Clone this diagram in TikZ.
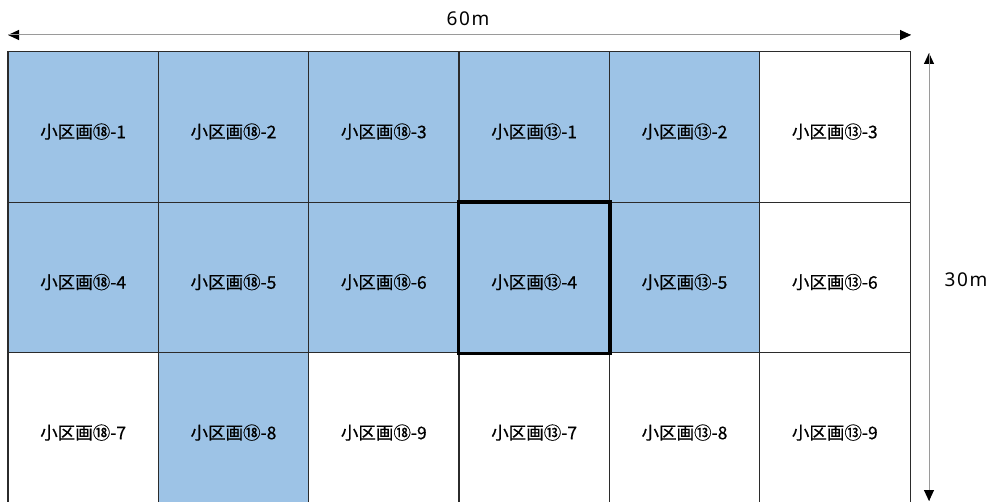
\documentclass[tikz,border=0pt]{standalone}
\usepackage{fontspec}
\setmainfont{Noto Sans CJK JP}[FakeBold=0.5]
\newfontfamily\dimfont[LetterSpace=8]{Noto Sans}
\usetikzlibrary{arrows.meta}
\definecolor{cellblue}{HTML}{9DC3E6}
\definecolor{gridline}{HTML}{2B2B2B}
\definecolor{dimline}{HTML}{9A9A9A}
\tikzset{
  cell/.style={draw=gridline, line width=1pt, rectangle, inner sep=0pt,
    minimum width=150.33pt, minimum height=150.5pt, text height=22pt, text depth=0pt,
    font=\fontsize{17.5}{19}\selectfont, text=black},
  bluecell/.style={cell, fill=cellblue},
  whitecell/.style={cell, fill=white},
  dimarrow/.style={draw=dimline, line width=1pt, -{Triangle[length=11pt,width=10pt,fill=black,color=black]}},
  dimlabel/.style={font=\dimfont\fontsize{19}{21}\selectfont, inner sep=0pt, text=black}
}
\begin{document}
\begin{tikzpicture}[x=1pt,y=-1pt]
\useasboundingbox (0,0) rectangle (991,502);
% row 1
\node[bluecell]  (c11) at (83.17,127.25) {小区画⑱-1};
\node[bluecell]  (c12) at (233.5,127.25) {小区画⑱-2};
\node[bluecell]  (c13) at (383.83,127.25) {小区画⑱-3};
\node[bluecell]  (c14) at (534.17,127.25) {小区画⑬-1};
\node[bluecell]  (c15) at (684.5,127.25) {小区画⑬-2};
\node[whitecell] (c16) at (834.83,127.25) {小区画⑬-3};
% row 2
\node[bluecell]  (c21) at (83.17,277.75) {小区画⑱-4};
\node[bluecell]  (c22) at (233.5,277.75) {小区画⑱-5};
\node[bluecell]  (c23) at (383.83,277.75) {小区画⑱-6};
\node[bluecell]  (c24) at (534.17,277.75) {小区画⑬-4};
\node[bluecell]  (c25) at (684.5,277.75) {小区画⑬-5};
\node[whitecell] (c26) at (834.83,277.75) {小区画⑬-6};
% row 3
\node[whitecell] (c31) at (83.17,428.25) {小区画⑱-7};
\node[bluecell]  (c32) at (233.5,428.25) {小区画⑱-8};
\node[whitecell] (c33) at (383.83,428.25) {小区画⑱-9};
\node[whitecell] (c34) at (534.17,428.25) {小区画⑬-7};
\node[whitecell] (c35) at (684.5,428.25) {小区画⑬-8};
\node[whitecell] (c36) at (834.83,428.25) {小区画⑬-9};
% outer border
\draw[gridline, line width=1.6pt] (c31.south west) |- (c16.north east) -- (c36.south east);
% highlighted cell
\draw[black, line width=3.5pt] (c24.north west) rectangle (c24.south east);
% dimension arrows
\coordinate (hl) at (8,35);
\coordinate (hr) at (911,35);
\coordinate (vt) at (929,53);
\coordinate (vb) at (929,501);
\draw[dimarrow] (hr) -- (hl);
\draw[dimarrow] (hl) -- (hr);
\draw[dimarrow] (vb) -- (vt);
\draw[dimarrow] (vt) -- (vb);
\node[dimlabel] (w) at (468,19) {60m};
\node[dimlabel] (h) at (966,280) {30m};
\end{tikzpicture}
\end{document}
